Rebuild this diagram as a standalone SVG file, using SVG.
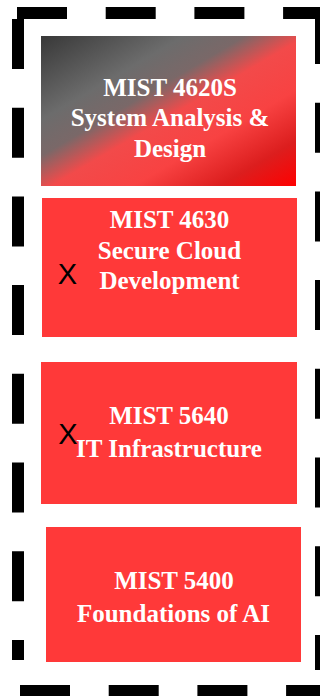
<svg xmlns="http://www.w3.org/2000/svg" width="320" height="696" viewBox="0 0 320 696">
  <defs>
    <linearGradient id="capstoneFill" x1="0" y1="0" x2="1" y2="1">
      <stop offset="0" stop-color="#383838"/>
      <stop offset="0.28" stop-color="#6c6c6c"/>
      <stop offset="0.4" stop-color="#7a6868"/>
      <stop offset="0.52" stop-color="#f24a4a"/>
      <stop offset="0.68" stop-color="#f84242"/>
      <stop offset="0.85" stop-color="#dc1e1e"/>
      <stop offset="1" stop-color="#ff0000"/>
    </linearGradient>
    <style>
      .frame { stroke: #000; stroke-width: 12; stroke-dasharray: 50 38.7; fill: none; stroke-linecap: butt; }
      .course { fill: #ff3939; }
      .title { font-family: "Liberation Serif", "Times New Roman", serif; font-weight: bold; font-size: 25px; fill: #fff; text-anchor: middle; }
      .mark { font-family: "Liberation Sans", Arial, sans-serif; font-size: 29px; fill: #000; text-anchor: middle; }
    </style>
  </defs>

  <rect width="320" height="696" fill="#fff"/>

  <!-- dashed outer frame, one line per side -->
  <g id="frame">
    <line class="frame" x1="17" y1="13" x2="330" y2="13"/>
    <line class="frame" x1="18" y1="19" x2="18" y2="660"/>
    <line class="frame" x1="321" y1="14" x2="321" y2="670"/>
    <line class="frame" x1="20" y1="691" x2="330" y2="691"/>
  </g>

  <g id="mist4620s">
    <rect x="41" y="36" width="255" height="150" fill="url(#capstoneFill)"/>
    <text class="title" x="170" y="96">MIST 4620S</text>
    <text class="title" x="170" y="126">System Analysis &amp;</text>
    <text class="title" x="170" y="157">Design</text>
  </g>

  <g id="mist4630">
    <rect class="course" x="42" y="198" width="255" height="139"/>
    <text class="title" x="169.5" y="228">MIST 4630</text>
    <text class="title" x="169.5" y="258.5">Secure Cloud</text>
    <text class="title" x="169.5" y="289">Development</text>
    <text class="mark" x="67.5" y="284">X</text>
  </g>

  <g id="mist5640">
    <rect class="course" x="41" y="362" width="256" height="142"/>
    <text class="title" x="169" y="424">MIST 5640</text>
    <text class="title" x="169" y="457">IT Infrastructure</text>
    <text class="mark" x="68" y="444">X</text>
  </g>

  <g id="mist5400">
    <rect class="course" x="46" y="527" width="255" height="135"/>
    <text class="title" x="174" y="589">MIST 5400</text>
    <text class="title" x="173.5" y="622">Foundations of AI</text>
  </g>

  <g id="connectors"/>
</svg>
